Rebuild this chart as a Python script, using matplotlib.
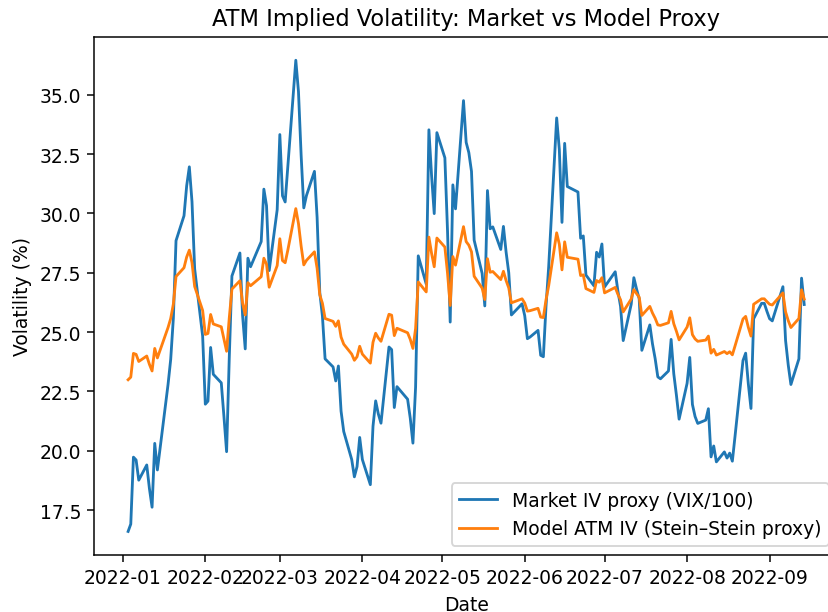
import numpy as np
import pandas as pd
import matplotlib
matplotlib.use("Agg")
import matplotlib.pyplot as plt

# trading days, Jan 3 - Sep 14 2022 (US holidays skipped)
holidays = ["2022-01-17", "2022-02-21", "2022-04-15", "2022-05-30",
            "2022-06-20", "2022-07-04", "2022-09-05"]
dates = pd.bdate_range("2022-01-03", "2022-09-14", freq="C", holidays=holidays)

# market IV proxy, in %
market_iv = [
    # Jan
    16.60, 16.91, 19.73, 19.61, 18.76, 19.40, 18.41, 17.62, 20.31, 19.19,
    22.79, 23.85, 25.59, 28.85, 29.90, 31.16, 31.96, 30.49, 27.66, 24.83,
    # Feb
    21.96, 22.09, 24.35, 23.22, 22.86, 21.44, 19.96, 23.91, 27.36, 28.33,
    25.70, 24.29, 28.11, 27.75, 28.81, 31.02, 30.32, 27.59, 30.15,
    # Mar
    33.32, 30.74, 30.48, 31.98, 36.45, 35.13, 32.45, 30.23, 30.75, 31.77,
    29.83, 26.67, 25.67, 23.87, 23.53, 22.94, 23.57, 21.67, 20.81, 19.63,
    18.90, 19.33, 20.56,
    # Apr
    19.63, 18.57, 21.03, 22.10, 21.55, 21.16, 24.37, 24.26, 21.82, 22.70,
    22.17, 21.37, 20.32, 22.68, 28.21, 27.02, 33.52, 31.60, 29.99, 33.40,
    # May
    32.34, 29.25, 25.42, 31.20, 30.19, 34.75, 32.99, 32.56, 31.77, 28.87,
    27.47, 26.10, 30.96, 29.35, 29.43, 28.48, 29.45, 28.37, 27.50, 25.72,
    26.19,
    # Jun
    25.69, 24.72, 24.79, 25.07, 24.02, 23.96, 26.09, 27.75, 34.02, 32.69,
    29.62, 32.95, 31.13, 30.90, 28.95, 29.05, 27.40, 26.95, 28.36, 28.16,
    28.71,
    # Jul
    26.90, 27.54, 26.73, 26.08, 24.64, 26.17, 27.29, 26.82, 26.40, 24.23,
    25.30, 24.50, 23.88, 23.11, 23.03, 23.36, 24.69, 23.24, 22.33, 21.33,
    # Aug
    22.84, 23.93, 21.95, 21.44, 21.15, 21.29, 21.77, 19.74, 20.20, 19.53,
    19.95, 19.69, 19.90, 19.56, 20.60, 23.80, 24.11, 22.82, 21.78, 25.56,
    26.21, 26.21, 25.87,
    # Sep
    25.56, 25.47, 26.91, 24.64, 23.61, 22.79, 23.87, 27.27, 26.16,
]

# model ATM IV (Stein-Stein proxy), in %
model_iv = [
    # Jan
    22.99, 23.10, 24.10, 24.06, 23.76, 23.99, 23.64, 23.36, 24.31, 23.91,
    25.19, 25.57, 26.18, 27.34, 27.71, 28.16, 28.45, 27.92, 26.92, 25.91,
    # Feb
    24.90, 24.94, 25.74, 25.34, 25.22, 24.71, 24.19, 25.59, 26.81, 27.16,
    26.22, 25.72, 27.08, 26.95, 27.33, 28.11, 27.86, 26.89, 27.80,
    # Mar
    28.93, 28.01, 27.92, 28.45, 30.20, 29.57, 28.62, 27.83, 28.02, 28.38,
    27.69, 26.57, 26.21, 25.57, 25.45, 25.24, 25.47, 24.79, 24.49, 24.07,
    23.81, 23.96, 24.40,
    # Apr
    24.07, 23.69, 24.57, 24.95, 24.75, 24.61, 25.75, 25.71, 24.85, 25.16,
    24.97, 24.69, 24.31, 25.15, 27.11, 26.69, 29.00, 28.32, 27.75, 28.96,
    # May
    28.58, 27.48, 26.12, 28.18, 27.82, 29.44, 28.81, 28.66, 28.38, 27.35,
    26.85, 26.37, 28.09, 27.52, 27.55, 27.21, 27.56, 27.17, 26.86, 26.23,
    26.40,
    # Jun
    26.22, 25.88, 25.90, 26.00, 25.63, 25.61, 26.36, 26.95, 29.18, 28.70,
    27.62, 28.80, 28.15, 28.07, 27.38, 27.41, 26.83, 26.67, 27.17, 27.10,
    27.29,
    # Jul
    26.65, 26.88, 26.59, 26.36, 25.85, 26.39, 26.79, 26.62, 26.47, 25.70,
    26.08, 25.80, 25.58, 25.30, 25.28, 25.39, 25.87, 25.35, 25.03, 24.67,
    # Aug
    25.21, 25.60, 24.89, 24.71, 24.61, 24.66, 24.83, 24.11, 24.27, 24.03,
    24.18, 24.09, 24.17, 24.04, 24.41, 25.55, 25.66, 25.20, 24.83, 26.17,
    26.40, 26.40, 26.28,
    # Sep
    26.17, 26.14, 26.65, 25.85, 25.48, 25.19, 25.57, 26.78, 26.39,
]

DPI = 135
fig = plt.figure(figsize=(828 / DPI, 613 / DPI), dpi=DPI)
ax = fig.add_subplot(111)
fig.subplots_adjust(left=0.1139, right=1.0121, top=0.9385, bottom=0.093)

ax.plot(dates, market_iv, label="Market IV proxy (VIX/100)")
ax.plot(dates, model_iv, label="Model ATM IV (Stein\u2013Stein proxy)")

ax.set_title("ATM Implied Volatility: Market vs Model Proxy")
ax.set_xlabel("Date")
ax.set_ylabel("Volatility (%)")
ax.legend(loc="lower right")

fig.savefig("out.png", dpi=DPI)
